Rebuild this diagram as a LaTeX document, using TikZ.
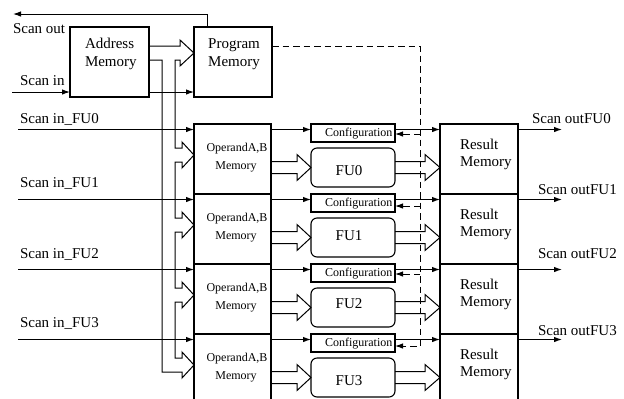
\documentclass[tikz,border=0pt]{standalone}
\usepackage{fontspec}
\setmainfont{Liberation Serif}
\usetikzlibrary{arrows.meta,calc}

% outline of a wide (hollow) arrow: from start #1 to tip #2,
% body half height #3, head half height #4, head length #5 (all in bp)
\newcommand\widearrow[5]{%
  \draw[wide] ([yshift=#3bp]#1) -- ([xshift=-#5bp,yshift=#3bp]#2)
    -- ([xshift=-#5bp,yshift=#4bp]#2) -- (#2)
    -- ([xshift=-#5bp,yshift=-#4bp]#2) -- ([xshift=-#5bp,yshift=-#3bp]#2)
    -- ([yshift=-#3bp]#1);}

\tikzset{
  blk/.style={draw, line width=1.1bp, inner sep=0pt, outer sep=0pt},
  sig/.style={line width=1bp, -{Latex[length=8bp,width=5.5bp]}},
  ctl/.style={sig, dash pattern=on 6.5bp off 4bp},
  wide/.style={line width=1bp, line join=miter},
  big/.style={font=\fontsize{15bp}{18bp}\selectfont, inner sep=0pt, outer sep=0pt},
  small/.style={font=\fontsize{12bp}{14bp}\selectfont, inner sep=0pt, outer sep=0pt},
}

\begin{document}
\begin{tikzpicture}[x=1bp,y=-1bp]
\useasboundingbox (0,0) rectangle (624,398);
\clip (0,0) rectangle (624,398);
\fill[white] (0,0) rectangle (624,398);

% top level: address and program memories
\node[blk, minimum width=79bp, minimum height=70bp] (am) at (109.5,62) {};
\node[blk, minimum width=78bp, minimum height=70bp] (pm) at (233,62) {};
\node[big, anchor=base west] (amt1) at (85,48) {Address};
\node[big, anchor=base west] (amt2) at (85,66) {Memory};
\node[big, anchor=base] (pmt1) at (234,48) {Program};
\node[big, anchor=base] (pmt2) at (234,66) {Memory};
\node[big, anchor=base west] (sot) at (13,33) {Scan out};
\node[big, anchor=base west] (sit) at (20,85) {Scan in};

% scan chain through the memories
\coordinate (scanin) at (12,92);
\draw[sig] (scanin) -- (am.west |- scanin);
\draw[sig] (am.east |- scanin) -- (pm.west |- scanin);
\coordinate (sotop) at (207,14);
\coordinate (scanout) at (13,14);
\draw[sig] (sotop |- pm.north) -- (sotop) -- (scanout);

% one row per functional unit
\foreach \i/\T/\sy/\dy/\inb/\outx/\outb/\fub in
  {0/124/129.5/134/123/532/123/175,
   1/194/199.5/206/187/538/194/240,
   2/264/269.5/274/258/538/258/308,
   3/334/339.5/346/327/538/335/385}{
  \node[blk, minimum width=77bp, minimum height=70bp] (op\i) at (232.5,\T+35) {};
  \node[blk, minimum width=84bp, minimum height=18bp] (cf\i) at (353,\T+9) {};
  \node[blk, rounded corners=6bp, minimum width=84bp, minimum height=39bp] (fu\i) at (353,\T+43.5) {};
  \node[blk, minimum width=78bp, minimum height=70bp] (rm\i) at (479,\T+35) {};

  \node[small, anchor=base] (opt\i a) at (237,\T+27) {OperandA,B};
  \node[small, anchor=base] (opt\i b) at (236,\T+45) {Memory};
  \node[small, anchor=base west] (cft\i) at (325,\T+12) {Configuration};
  \node[big, anchor=base] (fut\i) at (349,\fub) {FU\i};
  \node[big, anchor=base west] (rmt\i a) at (460,\T+25) {Result};
  \node[big, anchor=base west] (rmt\i b) at (460,\T+42) {Memory};
  \node[big, anchor=base west] (sil\i) at (20,\inb) {Scan in\_FU\i};
  \node[big, anchor=base west] (sol\i) at (\outx,\outb) {Scan outFU\i};

  % scan chain of the row
  \coordinate (si\i) at (18,\sy);
  \coordinate (so\i) at (562,\sy);
  \draw[sig] (si\i) -- (op\i.west |- si\i);
  \draw[sig] (op\i.east |- si\i) -- (cf\i.west |- si\i);
  \draw[sig] (cf\i.east |- si\i) -- (rm\i.west |- si\i);
  \draw[sig] (rm\i.east |- si\i) -- (so\i);

  % data paths operand -> FU -> result
  \coordinate (opout\i) at (op\i.east |- fu\i.west);
  \coordinate (rmin\i) at (rm\i.west |- fu\i.east);
  \widearrow{opout\i}{fu\i.west}{6}{13}{14}
  \widearrow{fu\i.east}{rmin\i}{6}{13}{15}

  % configuration taps
  \coordinate (dj\i) at (420,\dy);
  \coordinate (bt\i) at ([yshift=4bp]op\i.west);
}

% configuration line from the program memory
\coordinate (dtop) at (420,46);
\draw[ctl] (pm.east |- dtop) -- (dtop) -- (dj3) -- (cf3.east |- dj3);
\foreach \i in {0,1,2}
  \draw[ctl] (dj\i) -- (cf\i.east |- dj\i);

% wide address bus into program memory and down to the operand memories
\draw[wide] (am.east |- 0,46) -- (180,46) -- (180,40) -- (pm.west |- 0,53)
  -- (180,66) -- (180,60) -- (175,60)
  -- (175,148) -- (182,148) -- (182,142) -- (bt0) -- (182,168) -- (182,162) -- (175,162)
  -- (175,218) -- (182,218) -- (182,212) -- (bt1) -- (182,238) -- (182,232) -- (175,232)
  -- (175,288) -- (182,288) -- (182,282) -- (bt2) -- (182,308) -- (182,302) -- (175,302)
  -- (175,358) -- (182,358) -- (182,352) -- (bt3) -- (182,378) -- (182,372) -- (162,372)
  -- (162,60) -- (am.east |- 0,60);
\end{tikzpicture}
\end{document}
